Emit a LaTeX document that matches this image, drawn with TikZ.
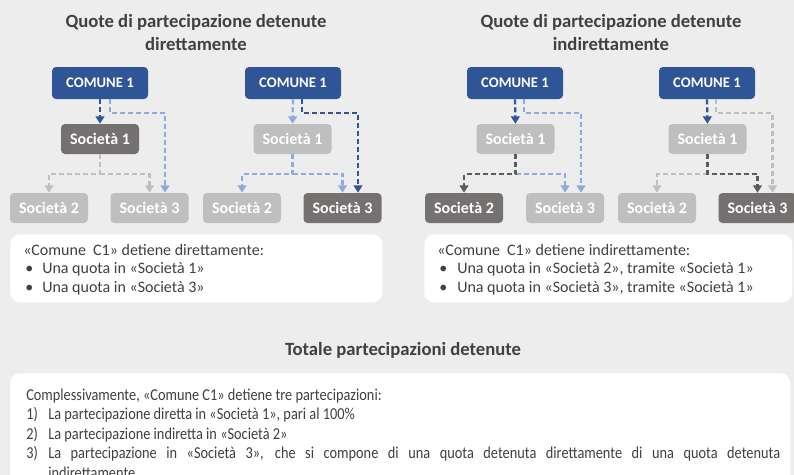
\documentclass[tikz,border=0pt]{standalone}
\usepackage{fontspec}
\setmainfont{Carlito}
\newfontfamily\condfont{Carlito}[FakeStretch=0.86]
\usetikzlibrary{arrows.meta,calc}
\definecolor{bg}{HTML}{EDEDED}
\definecolor{cblue}{HTML}{2F5597}
\definecolor{dgray}{HTML}{767171}
\definecolor{lgray}{HTML}{BFBFBF}
\definecolor{lblue}{HTML}{8FAADC}
\definecolor{ttext}{HTML}{404040}
\definecolor{cline}{HTML}{5F5B5B}
\tikzset{
  comune/.style={fill=cblue, rounded corners=3pt, minimum width=72pt, minimum height=24pt,
    text=white, font=\bfseries\fontsize{11}{12}\selectfont, inner sep=0pt},
  soc/.style={rounded corners=3pt, minimum width=58.5pt, minimum height=22.5pt,
    text=white, font=\bfseries\fontsize{12}{13}\selectfont, inner sep=0pt},
  socdark/.style={soc, fill=dgray},
  soclight/.style={soc, fill=lgray},
  seg/.style={line width=1.7pt, dash pattern=on 3.75pt off 2.25pt},
  conn/.style={seg, -{Triangle[length=5.5pt,width=6.5pt]}},
  title/.style={font=\bfseries\fontsize{14}{16}\selectfont, text=ttext, anchor=base, inner sep=0pt},
  wbox/.style={fill=white, rounded corners=7.5pt, anchor=north west, inner sep=0pt},
  btext/.style={font=\fontsize{12}{14}\selectfont, text=ttext, anchor=base west, inner sep=0pt},
  ctext/.style={font=\condfont\fontsize{12.5}{14}\selectfont, text=ttext, anchor=base west, inner sep=0pt},
}
\begin{document}
\begin{tikzpicture}[x=0.75pt,y=-0.75pt]
\clip (0,0) rectangle (794,475);
\fill[bg] (0,0) rectangle (794,475);

% titles
\node[title] (t1a) at (196,27) {Quote di partecipazione detenute};
\node[title] (t1b) at (196,50) {direttamente};
\node[title] (t2a) at (611,27) {Quote di partecipazione detenute};
\node[title] (t2b) at (611,50) {indirettamente};

% panel 1
\node[comune] (c1) at (100,83) {COMUNE 1};
\node[socdark] (s11) at (100,139) {Società 1};
\node[soclight] (s12) at (49,208) {Società 2};
\node[soclight] (s13) at (149.5,208) {Società 3};
\coordinate (j1) at ($(s11.south)+(0,20)$);
\draw[conn, lgray] (s11.south) -- (j1) -| (s12.north);
\draw[conn, lgray] (j1) -| (s13.north);
\draw[conn, lblue] ($(c1.south)+(10,0)$) -- ++(0,14) -| ($(s13.north)+(15.5,0)$);
\draw[conn, cblue] (c1.south) -- (s11.north);

% panel 2
\node[comune] (c2) at (293,83) {COMUNE 1};
\node[soclight] (s21) at (292.5,139) {Società 1};
\node[soclight] (s22) at (242,208) {Società 2};
\node[socdark] (s23) at (342.5,208) {Società 3};
\coordinate (j2) at ($(s21.south)+(0,20)$);
\draw[conn, lblue] (s21.south) -- (j2) -| (s22.north);
\draw[conn, lblue] (j2) -| (s23.north);
\draw[conn, lblue] (c2.south) -- (s21.north);
\draw[conn, cblue] ($(c2.south)+(9,0)$) -- ++(0,14) -| ($(s23.north)+(15.5,0)$);

% panel 3
\node[comune] (c3) at (515,83) {COMUNE 1};
\node[soclight] (s31) at (515.5,139) {Società 1};
\node[socdark] (s32) at (464,208) {Società 2};
\node[soclight] (s33) at (565,208) {Società 3};
\coordinate (j3) at ($(s31.south)+(0,20)$);
\draw[conn, lblue] (j3) -| (s33.north);
\draw[conn, cline] (s31.south) -- (j3) -| (s32.north);
\draw[conn, lblue] ($(c3.south)+(9,0)$) -- ++(0,14) -| ($(s33.north)+(16,0)$);
\draw[conn, cblue] (c3.south) -- (s31.north);

% panel 4
\node[comune] (c4) at (707,83) {COMUNE 1};
\node[soclight] (s41) at (707.5,139) {Società 1};
\node[soclight] (s42) at (657,208) {Società 2};
\node[socdark] (s43) at (757.5,208) {Società 3};
\coordinate (j4) at ($(s41.south)+(0,20)$);
\draw[conn, lgray] (j4) -| (s42.north);
\draw[conn, cline] (s41.south) -- (j4) -| (s43.north);
\draw[conn, lgray] ($(c4.south)+(9,0)$) -- ++(0,14) -| ($(s43.north)+(15,0)$);
\draw[conn, cblue] (c4.south) -- (s41.north);

% text boxes
\node[wbox, minimum width=279pt, minimum height=51pt] (tb1) at (10,234) {};
\node[btext] (l1a) at (23,255) {«Comune\ \ C1» detiene direttamente:};
\node[btext] (l1b) at (25,273.5) {•};
\node[btext] (l1c) at (42,273.5) {Una quota in «Società 1»};
\node[btext] (l1d) at (25,292) {•};
\node[btext] (l1e) at (42,292) {Una quota in «Società 3»};

\node[wbox, minimum width=276pt, minimum height=51pt] (tb2) at (424,234) {};
\node[btext] (l2a) at (437,255) {«Comune\ \ C1» detiene indirettamente:};
\node[btext] (l2b) at (439,273.5) {•};
\node[btext] (l2c) at (457,273.5) {Una quota in «Società 2», tramite «Società 1»};
\node[btext] (l2d) at (439,292) {•};
\node[btext] (l2e) at (457,292) {Una quota in «Società 3», tramite «Società 1»};

% total
\node[title] (t3) at (403,355) {Totale partecipazioni detenute};
\node[wbox, minimum width=585pt, minimum height=120pt] (tb3) at (10,373) {};
\node[ctext] (m0) at (26,400) {Complessivamente, «Comune C1» detiene tre partecipazioni:};
\node[ctext] (m1n) at (26,419.5) {1)};
\node[ctext] (m1) at (48,419.5) {La partecipazione diretta in «Società 1», pari al 100\%};
\node[ctext] (m2n) at (26,439) {2)};
\node[ctext] (m2) at (48,439) {La partecipazione indiretta in «Società 2»};
\node[ctext] (m3n) at (26,458.5) {3)};
\node[ctext] (m3) at (48,458.5) {\hbox to 549pt{La partecipazione in «Società 3», che si compone di una quota detenuta direttamente di una quota detenuta}};
\node[ctext] (m4) at (48,478) {indirettamente};
\end{tikzpicture}
\end{document}
